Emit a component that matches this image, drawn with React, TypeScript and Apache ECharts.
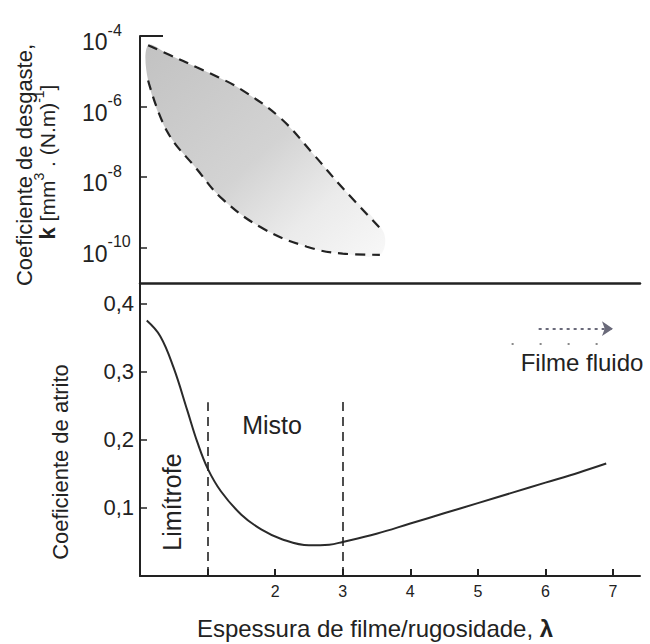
import React, { useEffect, useRef } from "react";
import * as echarts from "echarts";

// ---- data ----
const lambdaTicks = [1, 2, 3, 4, 5, 6, 7];
const lambdaLabels = [2, 3, 4, 5, 6, 7];
const frictionTicks = [0.1, 0.2, 0.3, 0.4];
const wearTicks = [1e-10, 1e-8, 1e-6, 1e-4];

// wear coefficient band (upper / lower dashed boundaries)
const wearUpper = [
  [0.12, 5.5e-5], [0.44, 2.9e-5], [0.84, 1.3e-5], [1.16, 6.8e-6], [1.48, 3.2e-6],
  [2.07, 4.9e-7], [2.56, 4.6e-8], [3.0, 4.9e-9], [3.6, 2.9e-10],
];
const wearLower = [
  [0.12, 5.5e-6], [0.4, 2.0e-7], [0.84, 1.7e-8], [1.23, 2.3e-9], [1.82, 3.5e-10],
  [2.47, 1.07e-10], [3.0, 6.8e-11], [3.55, 6.3e-11],
];
const wearTopCap = [[0, 1e-4], [0.34, 1e-4]];

// friction coefficient curve
const friction = [
  [0.1, 0.375], [0.3, 0.352], [0.5, 0.305], [0.7, 0.243], [0.85, 0.196], [1.0, 0.158],
  [1.2, 0.124], [1.5, 0.09], [1.8, 0.068], [2.1, 0.054], [2.5, 0.045], [2.8, 0.046],
  [3.0, 0.05], [3.5, 0.062], [4.0, 0.077], [4.5, 0.092], [5.0, 0.107], [5.5, 0.122],
  [6.0, 0.137], [6.5, 0.152], [6.9, 0.165],
];
const regimeLines = [[1, 0.255], [3, 0.26]];
const fluidArrow = [[5.9, 0.363], [7.0, 0.363]];
const fluidDots = [[5.5, 0.341], [7.0, 0.341]];

const FONT = "'Liberation Sans', Arial, Helvetica, sans-serif";
const INK = "#222";

export default function App() {
  const ref = useRef<HTMLDivElement>(null);
  useEffect(() => {
    document.body.style.margin = "0";
    const chart = echarts.init(ref.current!, null, { renderer: "svg" });
    const bandFill = new echarts.graphic.LinearGradient(0, 0, 1, 1, [
      { offset: 0, color: "#c2c2c2" },
      { offset: 0.5, color: "#d3d3d3" },
      { offset: 0.75, color: "#ebebeb" },
      { offset: 1, color: "#f8f8f8" },
    ]);
    chart.setOption({
      animation: false,
      backgroundColor: "#fff",
      textStyle: { fontFamily: FONT },
      grid: [
        { left: 140, top: 36, width: 500, height: 247, outerBoundsMode: "none" },
        { left: 140, top: 283, width: 500, height: 293, outerBoundsMode: "none" },
      ],
      xAxis: [
        {
          gridIndex: 0, type: "value", min: 0, max: 7.4,
          axisLine: { show: true, onZero: false, lineStyle: { color: INK, width: 2.5 } },
          axisTick: { show: false }, axisLabel: { show: false }, splitLine: { show: false },
        },
        {
          gridIndex: 1, type: "value", min: 0, max: 7.4,
          axisLine: { show: true, onZero: false, lineStyle: { color: INK, width: 2 } },
          axisTick: { show: true, inside: true, length: 7, customValues: lambdaTicks, lineStyle: { color: INK, width: 2 } },
          axisLabel: { show: true, customValues: lambdaLabels, fontSize: 16, color: INK, margin: 7, fontFamily: FONT },
          splitLine: { show: false },
        },
      ],
      yAxis: [
        {
          gridIndex: 0, type: "log", logBase: 10, min: 1e-11, max: 1e-4,
          axisLine: { show: true, lineStyle: { color: INK, width: 2 } },
          axisTick: { show: true, inside: true, length: 7, customValues: wearTicks, lineStyle: { color: INK, width: 1.5 } },
          axisLabel: {
            show: true, customValues: wearTicks, align: "left", margin: 58, padding: [12, 0, 0, 0],
            formatter: (v: number) => `{b|10}{s|${Math.round(Math.log10(v))}}`,
            rich: {
              b: { fontSize: 23, color: INK, fontFamily: FONT, lineHeight: 40, verticalAlign: "middle" },
              s: { fontSize: 16, color: INK, fontFamily: FONT, lineHeight: 16, verticalAlign: "top" },
            },
          },
          splitLine: { show: false },
        },
        {
          gridIndex: 1, type: "value", min: 0, max: 0.43,
          axisLine: { show: true, onZero: false, lineStyle: { color: INK, width: 2 } },
          axisTick: { show: true, inside: true, length: 7, customValues: frictionTicks, lineStyle: { color: INK, width: 1.5 } },
          axisLabel: {
            show: true, customValues: frictionTicks, fontSize: 22, color: INK, margin: 6, fontFamily: FONT,
            formatter: (v: number) => v.toFixed(1).replace(".", ","),
          },
          splitLine: { show: false },
        },
      ],
      series: [
        {
          type: "custom", xAxisIndex: 0, yAxisIndex: 0, data: [0], silent: true, z: 1,
          renderItem: (_p: any, api: any) => {
            const pts = [
              ...wearUpper.map((p) => api.coord(p)),
              ...wearLower.slice().reverse().map((p) => api.coord(p)),
            ];
            return { type: "polygon", shape: { points: pts, smooth: 0.35 }, style: { fill: bandFill } };
          },
        },
        {
          type: "line", xAxisIndex: 0, yAxisIndex: 0, data: wearUpper, smooth: 0.4, symbol: "none", z: 3,
          lineStyle: { color: INK, width: 2.2, type: [10, 7] },
        },
        {
          type: "line", xAxisIndex: 0, yAxisIndex: 0, data: wearLower, smooth: 0.4, symbol: "none", z: 3,
          lineStyle: { color: INK, width: 2.2, type: [10, 7] },
        },
        {
          type: "line", xAxisIndex: 0, yAxisIndex: 0, data: wearTopCap, symbol: "none", z: 3,
          lineStyle: { color: INK, width: 2 },
        },
        {
          type: "line", xAxisIndex: 1, yAxisIndex: 1, data: friction, smooth: 0.4, symbol: "none", z: 3,
          lineStyle: { color: "#2a2a2a", width: 2 },
          markLine: {
            silent: true, symbol: "none", label: { show: false },
            lineStyle: { color: INK, width: 1.6, type: [9, 6] },
            data: regimeLines.map(([x, top]) => [{ coord: [x, 0] }, { coord: [x, top] }]),
          },
        },
        {
          type: "line", xAxisIndex: 1, yAxisIndex: 1, data: [], symbol: "none",
          markLine: {
            silent: true, symbol: ["none", "arrow"], symbolSize: 11, label: { show: false },
            lineStyle: { color: "#6a6a7a", width: 2, type: [3, 4] },
            data: [[{ coord: fluidArrow[0] }, { coord: fluidArrow[1] }]],
          },
        },
        {
          type: "line", xAxisIndex: 1, yAxisIndex: 1, data: [], symbol: "none",
          markLine: {
            silent: true, symbol: "none", label: { show: false },
            lineStyle: { color: "#8a8a8a", width: 2, type: [2, 26] },
            data: [[{ coord: fluidDots[0] }, { coord: fluidDots[1] }]],
          },
        },
      ],
      graphic: [
        {
          type: "text", x: 24, y: 165, rotation: Math.PI / 2,
          style: { text: "Coeficiente de desgaste,", font: `22px ${FONT}`, fill: INK, align: "center", verticalAlign: "middle" },
        },
        {
          type: "text", x: 47, y: 162, rotation: Math.PI / 2,
          style: {
            text: "{k|k} {t|[mm}{s|3}{t| . (N.m)}{s|-1}{t|]}",
            fill: INK, align: "center", verticalAlign: "middle", font: `21px ${FONT}`,
            rich: {
              k: { fontSize: 22, fontWeight: "bold", fontFamily: FONT, fill: INK, lineHeight: 30, verticalAlign: "middle" },
              t: { fontSize: 21, fontFamily: FONT, fill: INK, lineHeight: 30, verticalAlign: "middle" },
              s: { fontSize: 14, fontFamily: FONT, fill: INK, lineHeight: 14, verticalAlign: "top" },
            },
          },
        },
        {
          type: "text", x: 60, y: 462, rotation: Math.PI / 2,
          style: { text: "Coeficiente de atrito", font: `22px ${FONT}`, fill: INK, align: "center", verticalAlign: "middle" },
        },
        {
          type: "text", x: 375, y: 628,
          style: {
            text: "{t|Espessura de filme/rugosidade, }{l|λ}", align: "center", verticalAlign: "middle", fill: INK,
            font: `24px ${FONT}`,
            rich: {
              t: { fontSize: 24, fontFamily: FONT, fill: INK },
              l: { fontSize: 24, fontFamily: FONT, fontWeight: "bold", fill: INK },
            },
          },
        },
        {
          type: "text", x: 272, y: 425,
          style: { text: "Misto", font: `25px ${FONT}`, fill: INK, align: "center", verticalAlign: "middle" },
        },
        {
          type: "text", x: 172, y: 502, rotation: Math.PI / 2,
          style: { text: "Limítrofe", font: `25px ${FONT}`, fill: INK, align: "center", verticalAlign: "middle" },
        },
        {
          type: "text", x: 582, y: 362,
          style: { text: "Filme fluido", font: `24px ${FONT}`, fill: INK, align: "center", verticalAlign: "middle" },
        },
      ],
    });
    return () => chart.dispose();
  }, []);
  return <div ref={ref} style={{ width: 650, height: 644 }} />;
}
